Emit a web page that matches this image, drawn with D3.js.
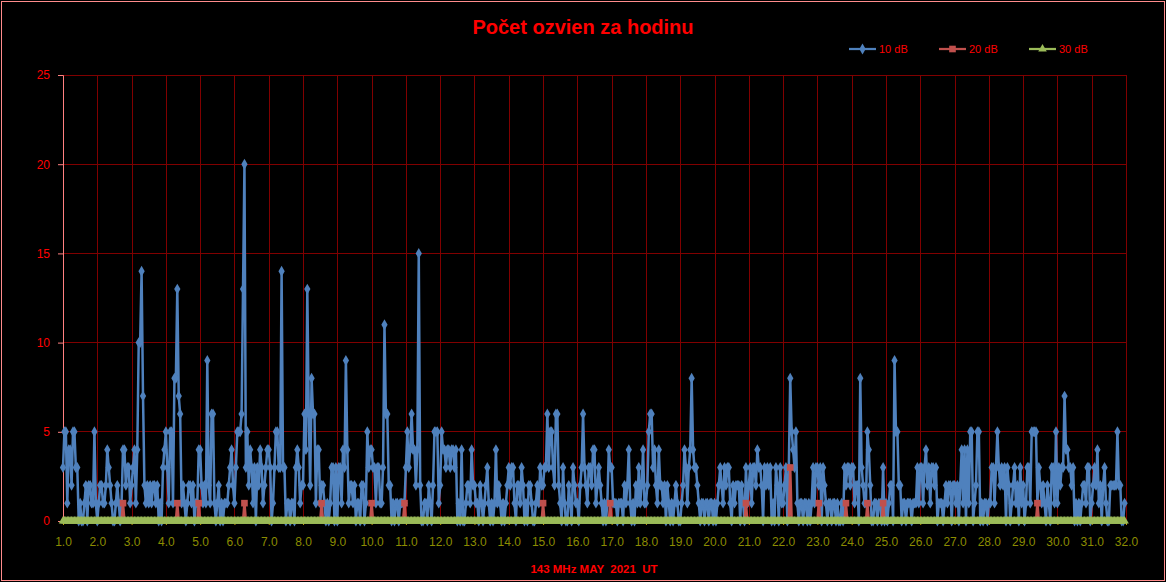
<!DOCTYPE html>
<html>
<head>
<meta charset="utf-8">
<script src="https://cdn.jsdelivr.net/npm/d3@7"></script>
<style>
  html, body { margin: 0; padding: 0; background: #000; }
  svg { display: block; }
  text { font-family: "Liberation Sans", Arial, sans-serif; }
</style>
</head>
<body>
<svg id="chart" width="1166" height="582"></svg>
<script>
// ---- DATA ----
const chartTitle = "Počet ozvien za hodinu";
const xTitle = "143 MHz MAY  2021  UT";
const seriesNames = ["10 dB", "20 dB", "30 dB"];
const xTicks = [1,2,3,4,5,6,7,8,9,10,11,12,13,14,15,16,17,18,19,20,21,22,23,24,25,26,27,28,29,30,31,32];
const yTicks = [0, 5, 10, 15, 20, 25];
const hoursPerDay = 24;
const firstDay = 1;

// hourly echo counts, one row per day (1..31 May 2021), hours 0..23 UT
const echoes10 = [
  [3,5,5,1,4,4,2,5,5,3,3,0,1,0,0,1,2,0,2,2,1,1,5,1],
  [0,1,2,2,1,1,2,4,3,2,1,0,0,1,2,1,0,1,4,4,2,3,3,1],
  [2,3,4,1,4,10,10,14,7,2,1,2,1,2,1,2,2,1,2,0,1,0,3,4],
  [5,3,1,5,5,1,8,8,13,7,6,1,2,1,0,1,2,2,1,2,0,1,1,4],
  [4,2,1,2,1,9,2,1,6,6,1,0,1,2,0,1,0,1,1,1,2,3,4,2],
  [1,3,5,5,5,6,13,20,3,5,2,4,3,1,3,0,3,2,4,3,1,2,3,4],
  [4,3,0,1,3,5,5,3,3,14,3,3,0,1,1,0,1,1,0,3,4,3,1,2],
  [2,6,4,13,6,2,8,6,6,1,4,4,1,2,2,1,0,1,0,1,3,3,0,3],
  [0,3,3,1,4,3,9,4,1,2,2,1,2,0,1,1,0,2,2,0,1,5,3,4],
  [4,3,3,1,3,3,1,1,3,11,6,6,2,2,0,1,0,1,1,0,1,1,1,1],
  [3,5,3,4,6,4,4,2,4,15,2,0,0,1,1,0,2,1,0,2,5,5,5,1],
  [2,5,4,4,3,4,4,3,4,4,3,4,0,1,0,4,0,0,1,2,2,1,4,2],
  [2,1,1,0,2,1,0,1,2,3,1,0,1,0,1,4,1,2,1,0,1,0,1,2],
  [3,2,3,3,1,0,2,2,1,3,2,0,1,0,2,2,1,0,0,1,2,1,3,2],
  [2,3,3,6,3,5,5,3,2,6,6,2,1,0,3,1,0,0,2,1,0,3,2,1],
  [1,0,2,3,6,3,2,1,3,3,2,4,4,1,2,3,2,1,0,1,0,1,4,3],
  [3,1,1,1,0,1,1,1,0,2,1,2,4,1,0,1,0,2,1,3,1,2,4,1],
  [1,2,5,6,6,3,4,2,1,4,2,2,1,2,0,2,1,0,1,0,1,2,1,0],
  [0,1,2,4,3,1,3,4,8,4,3,3,2,1,0,1,1,0,1,1,0,1,1,0],
  [1,0,1,2,3,2,1,3,2,3,3,1,0,2,1,2,2,2,0,2,1,0,3,1],
  [2,3,1,3,3,2,4,3,3,2,0,3,2,3,2,3,0,1,0,3,2,0,3,1],
  [1,2,3,0,3,8,5,4,3,5,1,0,1,1,0,1,1,0,1,0,1,3,1,3],
  [3,2,3,0,3,2,1,0,1,1,0,1,1,0,1,0,0,1,0,3,2,3,3,2],
  [3,3,1,2,2,0,8,3,2,1,1,5,4,2,0,0,1,1,0,1,1,0,3,0],
  [1,0,1,2,2,0,9,5,5,2,2,0,1,1,0,1,1,1,0,1,1,1,3,1],
  [3,3,1,3,4,2,3,1,3,3,2,3,0,1,1,1,0,1,2,1,2,2,0,2],
  [2,1,2,0,2,4,1,4,0,4,1,5,5,0,1,2,5,5,0,1,0,1,1,0],
  [1,1,3,3,1,3,5,3,2,3,2,3,0,3,2,0,1,2,3,1,2,0,3,1],
  [2,0,1,3,3,1,5,5,5,5,1,3,2,1,2,1,0,2,1,0,3,3,1,5],
  [1,3,2,3,3,7,4,4,3,3,2,3,0,1,0,1,0,1,2,2,1,3,3,0],
  [1,2,3,2,4,1,2,0,2,3,1,0,0,2,2,2,2,2,5,2,2,0,0,1]
];

const echoes20 = [
  [0,0,0,0,0,0,0,0,0,0,0,0,0,0,0,0,0,0,0,0,0,0,0,0],
  [0,0,0,0,0,0,0,0,0,0,0,0,0,0,0,0,0,0,1,0,0,0,0,0],
  [0,0,0,0,0,0,0,0,0,0,0,0,0,0,0,0,0,0,0,0,0,0,0,0],
  [0,0,0,0,0,0,0,0,1,0,0,0,0,0,0,0,0,0,0,0,0,0,0,1],
  [0,0,0,0,0,0,0,0,0,0,0,0,0,0,0,0,0,0,0,0,0,0,0,0],
  [0,0,0,0,0,0,0,1,0,0,0,0,0,0,0,0,0,0,0,0,0,0,0,0],
  [0,0,0,0,0,0,0,0,0,0,0,0,0,0,0,0,0,0,0,0,0,0,0,0],
  [0,0,0,0,0,0,0,0,0,0,0,0,0,1,0,0,0,0,0,0,0,0,0,0],
  [0,0,0,0,0,0,0,0,0,0,0,0,0,0,0,0,0,0,0,0,0,0,0,0],
  [1,0,0,0,0,0,0,0,0,0,0,0,0,0,0,0,0,0,0,0,0,0,0,1],
  [0,0,0,0,0,0,0,0,0,0,0,0,0,0,0,0,0,0,0,0,0,0,0,0],
  [0,0,0,0,0,0,0,0,0,0,0,0,0,0,0,0,0,0,0,0,0,0,0,0],
  [0,0,0,0,0,0,0,0,0,0,0,0,0,0,0,0,0,0,0,0,0,0,0,0],
  [0,0,0,0,0,0,0,0,0,0,0,0,0,0,0,0,0,0,0,0,0,0,0,0],
  [1,0,0,0,0,0,0,0,0,0,0,0,0,0,0,0,0,0,0,0,0,0,0,0],
  [0,0,0,0,0,0,0,0,0,0,0,0,0,0,0,0,0,0,0,0,0,0,0,1],
  [0,0,0,0,0,0,0,0,0,0,0,0,0,0,0,0,0,0,0,0,0,0,0,0],
  [0,0,0,0,0,0,0,0,0,0,0,0,0,0,0,0,0,0,0,0,0,0,0,0],
  [0,0,0,0,0,0,0,0,0,0,0,0,0,0,0,0,0,0,0,0,0,0,0,0],
  [0,0,0,0,0,0,0,0,0,0,0,0,0,0,0,0,0,0,0,0,0,0,1,0],
  [0,0,0,0,0,0,0,0,0,0,0,0,0,0,0,0,0,0,0,0,0,0,0,0],
  [0,0,0,0,0,3,0,0,0,0,0,0,0,0,0,0,0,0,0,0,0,0,0,0],
  [0,1,0,0,0,0,0,0,0,0,0,0,0,0,0,0,0,0,0,0,1,0,0,0],
  [0,0,0,0,0,0,0,0,0,0,0,1,0,0,0,0,0,0,0,0,0,0,1,0],
  [0,0,0,0,0,0,0,0,0,0,0,0,0,0,0,0,0,0,0,0,0,0,0,0],
  [0,0,0,0,0,0,0,0,0,0,0,0,0,0,0,0,0,0,0,0,0,0,0,0],
  [0,0,0,0,0,0,0,0,0,0,0,0,0,0,0,0,0,0,0,0,0,0,0,0],
  [0,0,0,0,0,0,0,0,0,0,0,0,0,0,0,0,0,0,0,0,0,0,0,0],
  [0,0,0,0,0,0,0,0,0,0,1,0,0,0,0,0,0,0,0,0,0,0,0,0],
  [0,0,0,0,0,0,0,0,0,0,0,0,0,0,0,0,0,0,0,0,0,0,0,0],
  [0,0,0,0,0,0,0,0,0,0,0,0,0,0,0,0,0,0,0,0,0,0,0,0]
];

const echoes30 = [
  [0,0,0,0,0,0,0,0,0,0,0,0,0,0,0,0,0,0,0,0,0,0,0,0],
  [0,0,0,0,0,0,0,0,0,0,0,0,0,0,0,0,0,0,0,0,0,0,0,0],
  [0,0,0,0,0,0,0,0,0,0,0,0,0,0,0,0,0,0,0,0,0,0,0,0],
  [0,0,0,0,0,0,0,0,0,0,0,0,0,0,0,0,0,0,0,0,0,0,0,0],
  [0,0,0,0,0,0,0,0,0,0,0,0,0,0,0,0,0,0,0,0,0,0,0,0],
  [0,0,0,0,0,0,0,0,0,0,0,0,0,0,0,0,0,0,0,0,0,0,0,0],
  [0,0,0,0,0,0,0,0,0,0,0,0,0,0,0,0,0,0,0,0,0,0,0,0],
  [0,0,0,0,0,0,0,0,0,0,0,0,0,0,0,0,0,0,0,0,0,0,0,0],
  [0,0,0,0,0,0,0,0,0,0,0,0,0,0,0,0,0,0,0,0,0,0,0,0],
  [0,0,0,0,0,0,0,0,0,0,0,0,0,0,0,0,0,0,0,0,0,0,0,0],
  [0,0,0,0,0,0,0,0,0,0,0,0,0,0,0,0,0,0,0,0,0,0,0,0],
  [0,0,0,0,0,0,0,0,0,0,0,0,0,0,0,0,0,0,0,0,0,0,0,0],
  [0,0,0,0,0,0,0,0,0,0,0,0,0,0,0,0,0,0,0,0,0,0,0,0],
  [0,0,0,0,0,0,0,0,0,0,0,0,0,0,0,0,0,0,0,0,0,0,0,0],
  [0,0,0,0,0,0,0,0,0,0,0,0,0,0,0,0,0,0,0,0,0,0,0,0],
  [0,0,0,0,0,0,0,0,0,0,0,0,0,0,0,0,0,0,0,0,0,0,0,0],
  [0,0,0,0,0,0,0,0,0,0,0,0,0,0,0,0,0,0,0,0,0,0,0,0],
  [0,0,0,0,0,0,0,0,0,0,0,0,0,0,0,0,0,0,0,0,0,0,0,0],
  [0,0,0,0,0,0,0,0,0,0,0,0,0,0,0,0,0,0,0,0,0,0,0,0],
  [0,0,0,0,0,0,0,0,0,0,0,0,0,0,0,0,0,0,0,0,0,0,0,0],
  [0,0,0,0,0,0,0,0,0,0,0,0,0,0,0,0,0,0,0,0,0,0,0,0],
  [0,0,0,0,0,0,0,0,0,0,0,0,0,0,0,0,0,0,0,0,0,0,0,0],
  [0,0,0,0,0,0,0,0,0,0,0,0,0,0,0,0,0,0,0,0,0,0,0,0],
  [0,0,0,0,0,0,0,0,0,0,0,0,0,0,0,0,0,0,0,0,0,0,0,0],
  [0,0,0,0,0,0,0,0,0,0,0,0,0,0,0,0,0,0,0,0,0,0,0,0],
  [0,0,0,0,0,0,0,0,0,0,0,0,0,0,0,0,0,0,0,0,0,0,0,0],
  [0,0,0,0,0,0,0,0,0,0,0,0,0,0,0,0,0,0,0,0,0,0,0,0],
  [0,0,0,0,0,0,0,0,0,0,0,0,0,0,0,0,0,0,0,0,0,0,0,0],
  [0,0,0,0,0,0,0,0,0,0,0,0,0,0,0,0,0,0,0,0,0,0,0,0],
  [0,0,0,0,0,0,0,0,0,0,0,0,0,0,0,0,0,0,0,0,0,0,0,0],
  [0,0,0,0,0,0,0,0,0,0,0,0,0,0,0,0,0,0,0,0,0,0,0,0]
];

// ---- LAYOUT / STYLE ----
const W = 1166, H = 582;
const plot = { left: 63, right: 1126, top: 75, bottom: 521 };
const colors = ["#4F81BD", "#C0504D", "#9BBB59"];
const gridColor = "#800000";
const axisColor = "#FF8080";
const red = "#FF0000";
const olive = "#8C8C00";

const svg = d3.select("#chart");
svg.append("rect").attr("x", 0).attr("y", 0).attr("width", W).attr("height", H).attr("fill", "#000");
svg.append("rect").attr("x", 1.5).attr("y", 1.5).attr("width", W - 3).attr("height", H - 3)
  .attr("fill", "none").attr("stroke", "#FF8C8C").attr("stroke-width", 1);

const x = d3.scaleLinear().domain([firstDay, firstDay + echoes10.length]).range([plot.left, plot.right]);
const y = d3.scaleLinear().domain([0, 25]).range([plot.bottom, plot.top]);

function toPoints(rows) {
  const pts = [];
  rows.forEach((row, d) => row.forEach((v, h) => pts.push({ t: firstDay + d + h / hoursPerDay, v })));
  return pts;
}

// gridlines
const g = svg.append("g");
g.selectAll("line.hg").data(yTicks.filter(t => t > 0)).join("line")
  .attr("x1", plot.left).attr("x2", plot.right)
  .attr("y1", d => y(d)).attr("y2", d => y(d))
  .attr("stroke", gridColor).attr("stroke-width", 1).attr("shape-rendering", "crispEdges");
g.selectAll("line.vg").data(xTicks.filter(t => t > firstDay)).join("line")
  .attr("x1", d => Math.round(x(d)) + 0.5).attr("x2", d => Math.round(x(d)) + 0.5)
  .attr("y1", plot.top).attr("y2", plot.bottom)
  .attr("stroke", gridColor).attr("stroke-width", 1);

// y axis
const yAxis = d3.axisLeft(y).tickValues(yTicks).tickSize(5).tickPadding(8).tickFormat(d3.format("d"));
const yg = svg.append("g").attr("transform", `translate(${plot.left},0)`).call(yAxis);
yg.select(".domain").attr("stroke", axisColor);
yg.selectAll(".tick line").attr("stroke", axisColor);
yg.selectAll(".tick text").attr("fill", red).attr("font-size", 12)
  .attr("font-family", "Liberation Sans, Arial, sans-serif");

// x axis
const xAxis = d3.axisBottom(x).tickValues(xTicks).tickSize(4).tickPadding(12).tickFormat(d3.format(".1f"));
const xg = svg.append("g").attr("transform", `translate(0,${plot.bottom})`).call(xAxis);
xg.select(".domain").attr("stroke", axisColor);
xg.selectAll(".tick line").attr("stroke", "#C8A000");
xg.selectAll(".tick text").attr("fill", olive).attr("font-size", 12)
  .attr("font-family", "Liberation Sans, Arial, sans-serif");

// series
const series = [echoes10, echoes20, echoes30].map((rows, i) => ({ name: seriesNames[i], color: colors[i], pts: toPoints(rows) }));
const symbols = [d3.symbolDiamond, d3.symbolSquare, d3.symbolTriangle];
const symSizes = [34, 44, 32];
const line = d3.line().x(d => x(d.t)).y(d => y(d.v));

series.forEach((s, i) => {
  const sg = svg.append("g");
  sg.append("path").datum(s.pts).attr("d", line)
    .attr("fill", "none").attr("stroke", s.color).attr("stroke-width", i === 2 ? 3 : 2.5)
    .attr("stroke-linejoin", "round");
  const sym = d3.symbol().type(symbols[i]).size(symSizes[i]);
  const markerPts = i === 1 ? s.pts.filter(p => p.v > 0) : s.pts;
  sg.selectAll("path.m").data(markerPts).join("path")
    .attr("transform", d => `translate(${x(d.t)},${y(d.v)})`)
    .attr("d", sym()).attr("fill", s.color);
});

// title
svg.append("text").attr("x", 583).attr("y", 34).attr("text-anchor", "middle")
  .attr("fill", red).attr("font-size", 20).attr("font-weight", "bold").text(chartTitle);

// x title
svg.append("text").attr("x", 594).attr("y", 573).attr("text-anchor", "middle")
  .attr("fill", red).attr("font-size", 11.5).attr("font-weight", "bold")
  .attr("xml:space", "preserve").style("white-space", "pre").text(xTitle);

// legend
const legendX = [849, 939, 1029];
const lg = svg.append("g");
series.forEach((s, i) => {
  const lx = legendX[i], ly = 49;
  lg.append("line").attr("x1", lx).attr("x2", lx + 27).attr("y1", ly).attr("y2", ly)
    .attr("stroke", s.color).attr("stroke-width", 2.25);
  lg.append("path").attr("transform", `translate(${lx + 13.5},${ly})`)
    .attr("d", d3.symbol().type(symbols[i]).size(symSizes[i])()).attr("fill", s.color);
  lg.append("text").attr("x", lx + 30).attr("y", ly + 4).attr("fill", red).attr("font-size", 11).text(s.name);
});
</script>
</body>
</html>
